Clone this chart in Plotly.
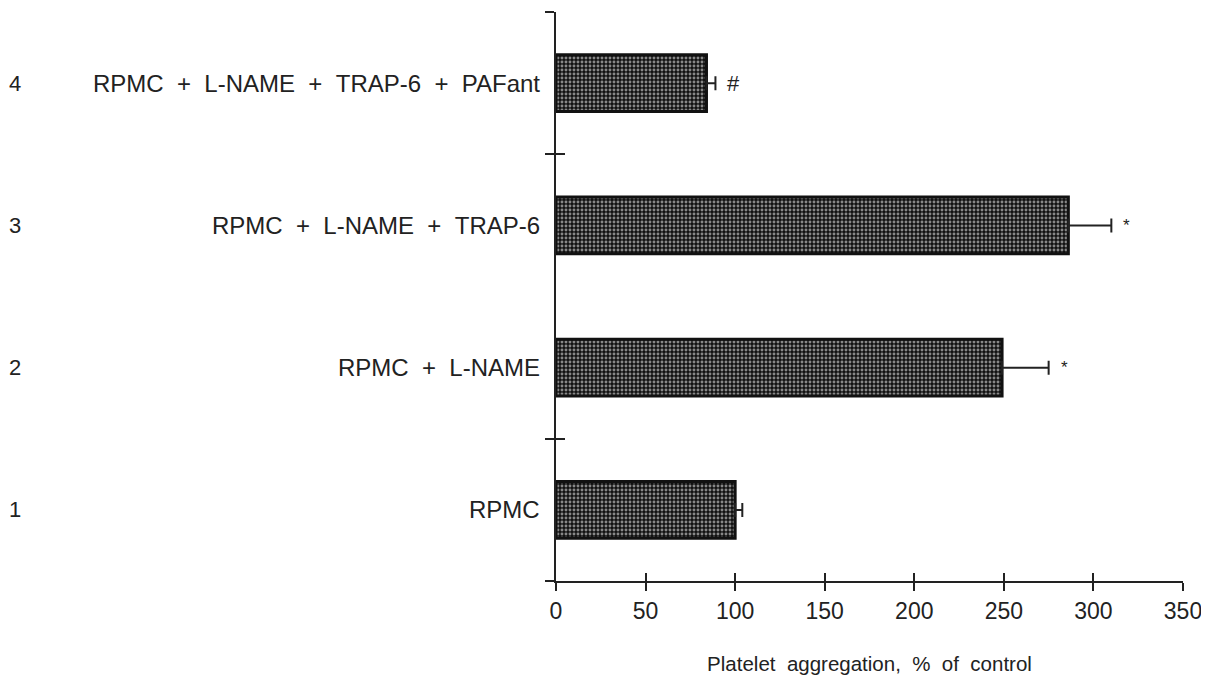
import plotly.graph_objects as go

# Data
positions = [1, 2, 3, 4]
group_numbers = ["1", "2", "3", "4"]
categories = ["RPMC", "RPMC + L-NAME", "RPMC + L-NAME + TRAP-6", "RPMC + L-NAME + TRAP-6 + PAFant"]
values = [100, 249, 286, 84]
errors = [4, 26, 24, 5]
marks = ["", "*", "*", "#"]

x_ticks = [0, 50, 100, 150, 200, 250, 300, 350]
y_boundaries = [0.5, 1.5, 3.5, 4.5]

FONT = "Liberation Sans, Arial, sans-serif"
INK = "#222222"

def spaced(s, n):
    return s.replace(" ", "\u00a0" * n)

fig = go.Figure()
fig.add_trace(go.Bar(
    y=positions, x=values, orientation="h", width=0.4,
    marker=dict(
        color="#111111",
        line=dict(color="#111111", width=3),
        pattern=dict(shape=".", fgcolor="#ffffff", bgcolor="#111111", size=4, solidity=0.42),
    ),
    error_x=dict(type="data", array=errors, arrayminus=[0] * len(errors), symmetric=False,
                 color=INK, thickness=2, width=7),
    showlegend=False,
))

annotations = []
for p, num, cat, v, e, m in zip(positions, group_numbers, categories, values, errors, marks):
    annotations.append(dict(x=0, y=p, xref="paper", yref="y", text=spaced(cat, 2), showarrow=False,
                            xanchor="right", yanchor="middle", xshift=-14,
                            font=dict(family=FONT, size=24, color=INK)))
    annotations.append(dict(x=0, y=p, xref="paper", yref="y", text=num, showarrow=False,
                            xanchor="left", yanchor="middle", xshift=-549,
                            font=dict(family=FONT, size=22, color=INK)))
    if m:
        annotations.append(dict(x=v + e, y=p, xref="x", yref="y", text=m, showarrow=False,
                                xanchor="left", yanchor="middle", xshift=10,
                                font=dict(family=FONT, size=22 if m == "#" else 17, color=INK)))

fig.update_layout(
    width=1201, height=668,
    margin=dict(l=548, r=26, t=4, b=92),
    plot_bgcolor="white", paper_bgcolor="white",
    annotations=annotations,
    xaxis=dict(range=[0, 350], tickvals=x_ticks, ticktext=[str(t) for t in x_ticks],
               ticks="outside", ticklen=8, tickwidth=2, tickcolor=INK,
               showline=True, linecolor=INK, linewidth=2, showgrid=False, zeroline=False,
               tickfont=dict(family=FONT, size=23, color=INK),
               title=dict(text=spaced("Platelet aggregation, % of control", 2), standoff=34,
                          font=dict(family=FONT, size=20.5, color=INK))),
    xaxis2=dict(range=[0, 350], overlaying="x", anchor="y", side="bottom", matches="x",
                tickvals=x_ticks, ticks="inside", ticklen=8, tickwidth=2, tickcolor=INK,
                showticklabels=False, showline=False, showgrid=False, zeroline=False),
    yaxis=dict(range=[0.5, 4.5], tickvals=y_boundaries, showticklabels=False,
               ticks="outside", ticklen=9, tickwidth=2, tickcolor=INK,
               showline=True, linecolor=INK, linewidth=2, showgrid=False, zeroline=False),
    yaxis2=dict(range=[0.5, 4.5], overlaying="y", anchor="x", side="left", matches="y",
                tickvals=y_boundaries, showticklabels=False,
                ticks="inside", ticklen=9, tickwidth=2, tickcolor=INK,
                showline=False, showgrid=False, zeroline=False),
)
# invisible helper trace so the overlay axes render their crossing ticks
fig.add_trace(go.Scatter(x=[None], y=[None], xaxis="x2", yaxis="y2", showlegend=False, hoverinfo="skip"))

fig.write_html("out.html")
